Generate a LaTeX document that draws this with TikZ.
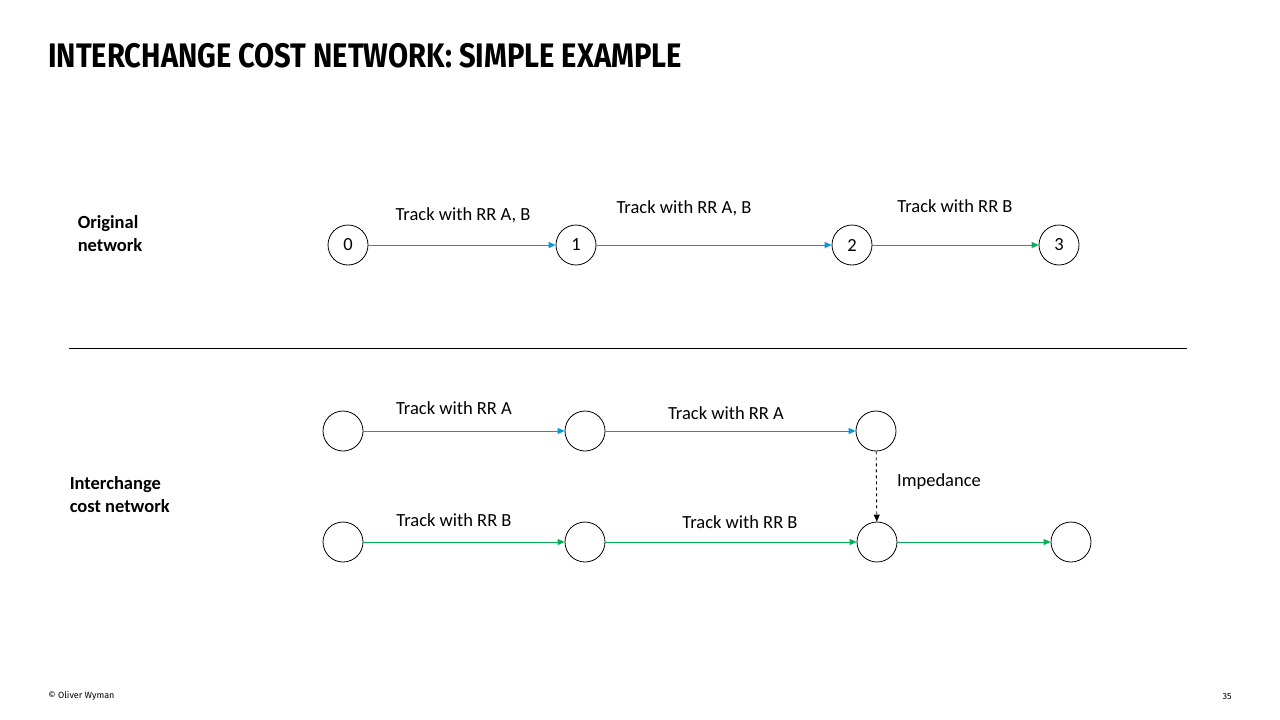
\documentclass[tikz,border=0pt]{standalone}
\usepackage{fontspec}
\setmainfont{Carlito}
\newfontfamily\titlefont{Fira Sans}
\usetikzlibrary{arrows.meta}
\definecolor{rrA}{RGB}{0,153,219}
\definecolor{rrB}{RGB}{0,176,80}
\begin{document}
\begin{tikzpicture}[x=1pt,y=-1pt,line width=0.9pt,
  nd/.style={circle,draw,line width=0.8pt,minimum size=40pt,inner sep=0pt,font=\fontsize{18.5}{18.5}\selectfont},
  lab/.style={font=\fontsize{18.5}{20}\selectfont},
  side/.style={font=\bfseries\fontsize{18.5}{23}\selectfont,align=left,anchor=west},
  ea/.style={rrA,-{Triangle[length=7pt,width=6pt]}},
  eb/.style={rrB,-{Triangle[length=7pt,width=6pt]}}]
\useasboundingbox (0,0) rectangle (1280,720);
\node[anchor=west,inner sep=0pt,font=\titlefont\bfseries\fontsize{34}{34}\selectfont,xscale=0.857] (title) at (48,56) {INTERCHANGE COST NETWORK: SIMPLE EXAMPLE};
\node[side] (orig) at (74,234) {Original\\network};
\node[side] (ic) at (66,495) {Interchange\\cost network};
\node[nd] (n0) at (348,245) {0};
\node[nd] (n1) at (576,245) {1};
\node[nd] (n2) at (852,245) {2};
\node[nd] (n3) at (1059,245) {3};
\draw[ea] (n0) -- (n1);
\draw[ea] (n1) -- (n2);
\draw[eb] (n2) -- (n3);
\node[lab] (l1) at (463,215) {Track with RR A, B};
\node[lab] (l2) at (684,208) {Track with RR A, B};
\node[lab] (l3) at (955,206) {Track with RR B};
\coordinate (s1) at (69,348); \coordinate (s2) at (1187,348);
\draw (s1) -- (s2);
\node[nd] (a1) at (343,431) {};
\node[nd] (a2) at (585,431) {};
\node[nd] (a3) at (876,431) {};
\node[nd] (b1) at (343,542) {};
\node[nd] (b2) at (585,542) {};
\node[nd] (b3) at (877,542) {};
\node[nd] (b4) at (1071,542) {};
\draw[ea] (a1) -- (a2);
\draw[ea] (a2) -- (a3);
\draw[eb] (b1) -- (b2);
\draw[eb] (b2) -- (b3);
\draw[rrB,-{Triangle[length=7pt,width=6pt]}] (b3) -- (b4);
\draw[dashed,-{Triangle[length=7pt,width=6pt]}] (a3) -- (b3);
\node[lab] (la1) at (454,408) {Track with RR A};
\node[lab] (la2) at (726,413) {Track with RR A};
\node[lab] (lb1) at (454,520) {Track with RR B};
\node[lab] (lb2) at (740,522) {Track with RR B};
\node[lab] (imp) at (939,482) {Impedance};
\node[anchor=west,inner sep=0pt,font=\titlefont\fontsize{9}{9}\selectfont] (cp) at (48,696) {© Oliver Wyman};
\node[anchor=east,inner sep=0pt,font=\titlefont\fontsize{9}{9}\selectfont] (pg) at (1232,696) {35};
\end{tikzpicture}
\end{document}
